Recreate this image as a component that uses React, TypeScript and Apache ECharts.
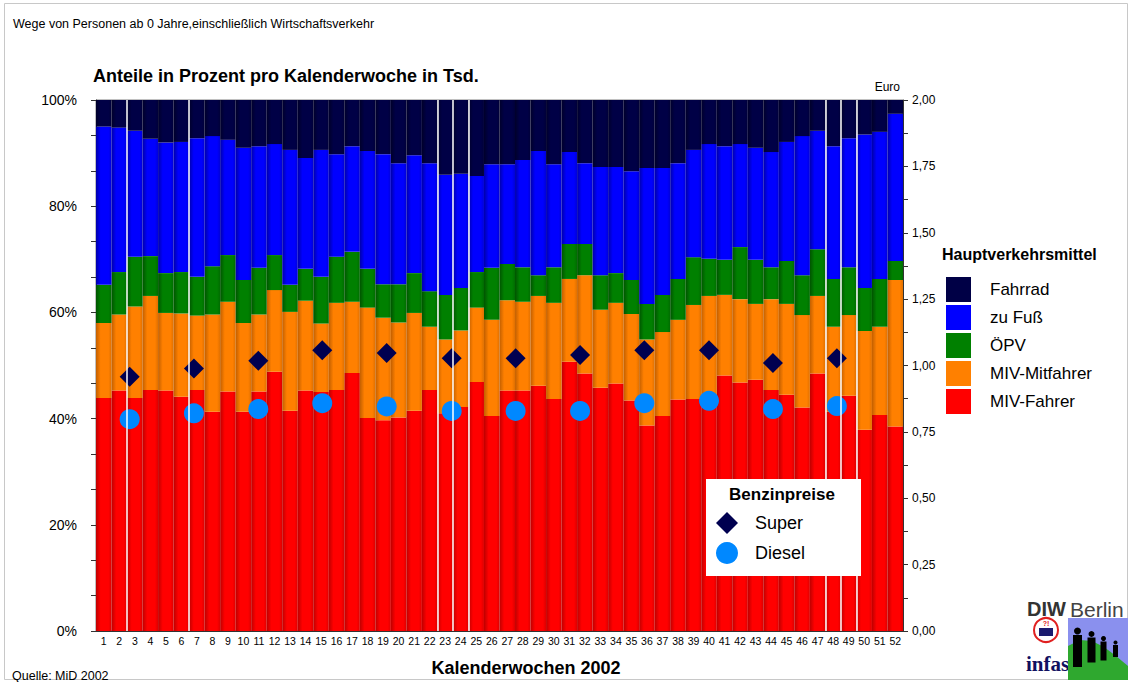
import React, { useEffect, useRef } from "react";
import * as echarts from "echarts";

const FONT = '"Liberation Sans", Arial, sans-serif';

const weekLabels = [
  "1", "2", "3", "4", "5", "6", "7", "8", "9", "10", "11", "12", "13",
  "14", "15", "16", "17", "18", "19", "20", "21", "22", "23", "24", "25", "26",
  "27", "28", "29", "30", "31", "32", "33", "34", "35", "36", "37", "38", "39",
  "40", "41", "42", "43", "44", "45", "46", "47", "48", "49", "50", "51", "52",
];

// shares in percent per calendar week (stack order bottom -> top)
const mivFahrer = [
  43.9, 45.3, 43.9, 45.4, 45.3, 44.1, 45.4, 41.3, 45.1, 41.3, 45.1, 48.8, 41.5,
  45.3, 45.0, 45.4, 48.6, 40.1, 39.7, 40.2, 41.5, 45.4, 41.0, 42.2, 46.9, 40.5,
  45.3, 45.3, 46.2, 43.7, 50.7, 48.5, 45.8, 46.6, 43.4, 38.7, 40.5, 43.6, 43.7,
  44.3, 48.1, 46.8, 47.3, 45.4, 44.5, 42.1, 48.5, 41.3, 44.3, 37.9, 40.7, 38.5,
];
const mivMitfahrer = [
  14.1, 14.3, 17.2, 17.7, 14.6, 15.7, 14.0, 18.3, 16.9, 16.7, 14.5, 15.4, 18.6,
  16.9, 12.9, 16.4, 13.4, 20.8, 19.3, 17.9, 18.4, 11.9, 13.9, 14.4, 14.0, 18.1,
  17.0, 16.7, 16.9, 18.1, 15.6, 18.5, 14.7, 15.2, 16.3, 16.2, 15.8, 15.0, 17.7,
  18.8, 15.2, 15.7, 14.3, 17.1, 17.1, 17.4, 14.6, 16.0, 15.2, 18.6, 16.6, 27.6,
];
const oepv = [
  7.2, 8.0, 9.4, 7.5, 7.5, 7.8, 7.3, 9.1, 8.8, 8.1, 8.8, 6.6, 5.1,
  6.0, 8.8, 8.7, 9.4, 7.3, 6.3, 7.2, 7.5, 6.7, 8.4, 8.0, 6.7, 9.8,
  6.8, 6.5, 3.9, 6.7, 6.6, 5.9, 6.5, 5.6, 6.4, 6.7, 7.0, 7.7, 9.0,
  7.0, 6.6, 9.8, 8.3, 6.0, 8.1, 7.5, 8.8, 9.0, 9.0, 8.1, 9.0, 3.6,
];
const zuFuss = [
  29.8, 27.2, 23.7, 22.1, 24.6, 24.5, 26.1, 24.5, 21.7, 24.9, 22.9, 20.9, 25.4,
  20.9, 23.9, 19.3, 19.9, 22.2, 24.5, 22.8, 22.2, 24.1, 22.6, 21.5, 18.1, 19.5,
  18.8, 20.2, 23.4, 19.4, 17.3, 15.2, 20.4, 20.0, 20.5, 25.6, 23.9, 21.8, 20.2,
  21.6, 21.4, 19.4, 21.1, 21.7, 22.4, 26.2, 22.3, 25.0, 24.3, 28.9, 27.7, 27.7,
];
const fahrrad = [
  5.0, 5.2, 5.8, 7.3, 8.0, 7.9, 7.2, 6.8, 7.5, 9.0, 8.7, 8.3, 9.4,
  10.9, 9.4, 10.2, 8.7, 9.6, 10.2, 11.9, 10.4, 11.9, 14.1, 13.9, 14.3, 12.1,
  12.1, 11.3, 9.6, 12.1, 9.8, 11.9, 12.6, 12.6, 13.4, 12.8, 12.8, 11.9, 9.4,
  8.3, 8.7, 8.3, 9.0, 9.8, 7.9, 6.8, 5.8, 8.7, 7.2, 6.5, 6.0, 2.6,
];

// fuel prices (Euro), positions measured in week units along the x axis
const pricePos = [2.17, 6.31, 10.46, 14.58, 18.73, 22.92, 27.04, 31.19, 35.33, 39.5, 43.62, 47.74];
const superPrice = [0.958, 0.989, 1.018, 1.057, 1.047, 1.027, 1.027, 1.04, 1.057, 1.057, 1.009, 1.027];
const dieselPrice = [0.798, 0.82, 0.836, 0.858, 0.846, 0.829, 0.829, 0.829, 0.858, 0.867, 0.836, 0.847];

// white separator lines after these weeks
const separatorWeeks = [2, 6, 22, 23, 24, 47, 48, 49];

const modeNames = ["MIV-Fahrer", "MIV-Mitfahrer", "ÖPV", "zu Fuß", "Fahrrad"];
const modeData = [mivFahrer, mivMitfahrer, oepv, zuFuss, fahrrad];
const modeColors = [
  ["#FF0000", "#BE0000", "#DC0000"],
  ["#FF8000", "#C25F00", "#E07000"],
  ["#008000", "#005400", "#006C00"],
  ["#0000FF", "#0000AA", "#0000D8"],
  ["#000046", "#00002A", "#000038"],
];

function barGrad(base: string, dark: string, mid: string) {
  return new echarts.graphic.LinearGradient(0, 0, 1, 0, [
    { offset: 0, color: dark },
    { offset: 0.3, color: base },
    { offset: 0.8, color: base },
    { offset: 1, color: mid },
  ]);
}

function buildOption() {
  const barSeries = modeNames.map((name, i) => ({
    name,
    type: "bar",
    stack: "total",
    xAxisIndex: 0,
    yAxisIndex: 0,
    barCategoryGap: "0%",
    data: modeData[i],
    itemStyle: { color: barGrad(modeColors[i][0], modeColors[i][1], modeColors[i][2]) },
    emphasis: { disabled: true },
    z: 2,
  }));

  const leftFmt = (v: number) => {
    const r = Math.round(v);
    return Math.abs(v - r) < 0.01 && r % 20 === 0 ? r + "%" : "";
  };
  const rightFmt = (v: number) => {
    const q = v / 0.25;
    return Math.abs(q - Math.round(q)) < 1e-6 ? v.toFixed(2).replace(".", ",") : "";
  };

  const txt = (text: string, x: number, y: number, font: string, align = "left", fill = "#000", z = 20) => ({
    type: "text",
    x,
    y,
    z,
    silent: true,
    style: { text, font, fill, textAlign: align, textVerticalAlign: "middle" },
  });

  return {
    animation: false,
    textStyle: { fontFamily: FONT },
    grid: { left: 96, right: 230, top: 100, bottom: 51, show: true, borderColor: "#808080", borderWidth: 1, backgroundColor: "transparent" },
    xAxis: [
      {
        type: "category",
        data: weekLabels,
        boundaryGap: true,
        axisLine: { show: true, lineStyle: { color: "#333" } },
        axisTick: { show: false },
        axisLabel: { interval: 0, fontSize: 10.5, color: "#000", margin: 4, fontFamily: FONT },
        splitLine: { show: false },
      },
      { type: "value", min: 0, max: 52, show: false },
    ],
    yAxis: [
      {
        type: "value",
        min: 0,
        max: 100,
        interval: 100 / 15,
        position: "left",
        axisLine: { show: true, lineStyle: { color: "#333" } },
        axisTick: { show: true, length: 5, lineStyle: { color: "#333" } },
        axisLabel: { fontSize: 14, color: "#000", margin: 19, formatter: leftFmt, fontFamily: FONT },
        splitLine: { show: false },
      },
      {
        type: "value",
        min: 0,
        max: 2,
        interval: 0.125,
        position: "right",
        axisLine: { show: true, lineStyle: { color: "#333" } },
        axisTick: { show: true, length: 5, lineStyle: { color: "#333" } },
        axisLabel: { fontSize: 12, color: "#000", margin: 9, formatter: rightFmt, fontFamily: FONT },
        splitLine: { show: false },
      },
    ],
    legend: [
      {
        data: [
          { name: "Fahrrad", itemStyle: { color: "#000046" } },
          { name: "zu Fuß", itemStyle: { color: "#0000FF" } },
          { name: "ÖPV", itemStyle: { color: "#008000" } },
          { name: "MIV-Mitfahrer", itemStyle: { color: "#FF8000" } },
          { name: "MIV-Fahrer", itemStyle: { color: "#FF0000" } },
        ],
        orient: "vertical",
        left: 946,
        top: 277,
        padding: 0,
        itemWidth: 25,
        itemHeight: 25,
        itemGap: 3,
        icon: "rect",
        selectedMode: false,
        textStyle: { fontSize: 17, color: "#000", padding: [0, 0, 0, 14], fontFamily: FONT },
      },
      {
        data: [{ name: "Super" }, { name: "Diesel" }],
        orient: "vertical",
        left: 716,
        top: 512,
        padding: 0,
        itemWidth: 22,
        itemHeight: 22,
        itemGap: 8,
        selectedMode: false,
        z: 10,
        textStyle: { fontSize: 18, color: "#000", padding: [0, 0, 0, 12], fontFamily: FONT },
      },
    ],
    series: [
      ...barSeries,
      {
        name: "sep",
        type: "line",
        xAxisIndex: 1,
        yAxisIndex: 0,
        data: [],
        z: 3,
        silent: true,
        markLine: {
          silent: true,
          symbol: ["none", "none"],
          label: { show: false },
          lineStyle: { color: "#FFFFFF", width: 1.5, type: "solid", opacity: 1 },
          emphasis: { disabled: true },
          data: separatorWeeks.map((w) => ({ xAxis: w })),
        },
      },
      {
        name: "Super",
        type: "scatter",
        xAxisIndex: 1,
        yAxisIndex: 1,
        symbol: "diamond",
        symbolSize: 20,
        itemStyle: { color: "#000050", opacity: 1 },
        data: pricePos.map((p, i) => [p, superPrice[i]]),
        z: 4,
        emphasis: { disabled: true },
      },
      {
        name: "Diesel",
        type: "scatter",
        xAxisIndex: 1,
        yAxisIndex: 1,
        symbol: "circle",
        symbolSize: 20,
        itemStyle: { color: "#0088FF", opacity: 1 },
        data: pricePos.map((p, i) => [p, dieselPrice[i]]),
        z: 4,
        emphasis: { disabled: true },
      },
    ],
    graphic: [
      { type: "rect", silent: true, z: 1, shape: { x: 4.5, y: 3.5, width: 1123, height: 676 }, style: { fill: "none", stroke: "#c8c8c8", lineWidth: 1 } },
      txt("Wege von Personen ab 0 Jahre,einschließlich Wirtschaftsverkehr", 13, 24, `12.5px ${FONT}`),
      txt("Anteile in Prozent pro Kalenderwoche in Tsd.", 93, 76, `bold 18px ${FONT}`),
      txt("Euro", 900, 87, `12px ${FONT}`, "right"),
      txt("Hauptverkehrsmittel", 942, 254, `bold 16px ${FONT}`),
      txt("Kalenderwochen 2002", 526, 668, `bold 18px ${FONT}`, "center"),
      txt("Quelle: MiD 2002", 12, 676, `12.5px ${FONT}`),
      { type: "rect", silent: true, z: 5, shape: { x: 706, y: 479, width: 155, height: 97 }, style: { fill: "#FFFFFF" } },
      txt("Benzinpreise", 782, 494, `bold 17px ${FONT}`, "center"),
      // logo
      txt("DIW", 1027, 609, `bold 20px ${FONT}`, "left", "#333"),
      txt("Berlin", 1070, 609, `21px ${FONT}`, "left", "#444"),
      { type: "circle", silent: true, z: 20, shape: { cx: 1046, cy: 630, r: 12 }, style: { fill: "#FFFFFF", stroke: "#E02020", lineWidth: 2 } },
      { type: "rect", silent: true, z: 21, shape: { x: 1039, y: 628, width: 14, height: 8 }, style: { fill: "#1A1A6E" } },
      txt("?!", 1046, 623, `bold 7px ${FONT}`, "center", "#E02020", 21),
      txt("infas", 1026, 664, `bold 21px "Liberation Serif", serif`, "left", "#101060"),
      { type: "rect", silent: true, z: 20, shape: { x: 1068, y: 618, width: 60, height: 62 }, style: { fill: "#8A90EE" } },
      {
        type: "polygon",
        silent: true,
        z: 21,
        shape: { points: [[1068, 646], [1080, 640], [1092, 641], [1104, 647], [1116, 656], [1128, 666], [1128, 680], [1068, 680]] },
        style: { fill: "#2FA82F" },
      },
      { type: "circle", silent: true, z: 22, shape: { cx: 1077.5, cy: 631, r: 3.5 }, style: { fill: "#000" } },
      { type: "rect", silent: true, z: 22, shape: { x: 1073, y: 635, width: 9, height: 32 }, style: { fill: "#000" } },
      { type: "circle", silent: true, z: 22, shape: { cx: 1091.5, cy: 634, r: 3 }, style: { fill: "#000" } },
      { type: "rect", silent: true, z: 22, shape: { x: 1087.5, y: 637.5, width: 8, height: 25 }, style: { fill: "#000" } },
      { type: "circle", silent: true, z: 22, shape: { cx: 1103.5, cy: 638.5, r: 2.5 }, style: { fill: "#000" } },
      { type: "rect", silent: true, z: 22, shape: { x: 1100.5, y: 641.5, width: 6, height: 19 }, style: { fill: "#000" } },
      { type: "circle", silent: true, z: 22, shape: { cx: 1115.5, cy: 642.5, r: 2 }, style: { fill: "#000" } },
      { type: "rect", silent: true, z: 22, shape: { x: 1113, y: 645, width: 5, height: 12 }, style: { fill: "#000" } },
    ],
  };
}

export default function App() {
  const ref = useRef<HTMLDivElement>(null);
  useEffect(() => {
    if (!ref.current) return;
    const chart = echarts.init(ref.current, null, { renderer: "svg" });
    chart.setOption(buildOption() as any);
    return () => chart.dispose();
  }, []);
  return (
    <div
      ref={ref}
      style={{ position: "fixed", left: 0, top: 0, width: 1133, height: 682, background: "#FFFFFF" }}
    />
  );
}
